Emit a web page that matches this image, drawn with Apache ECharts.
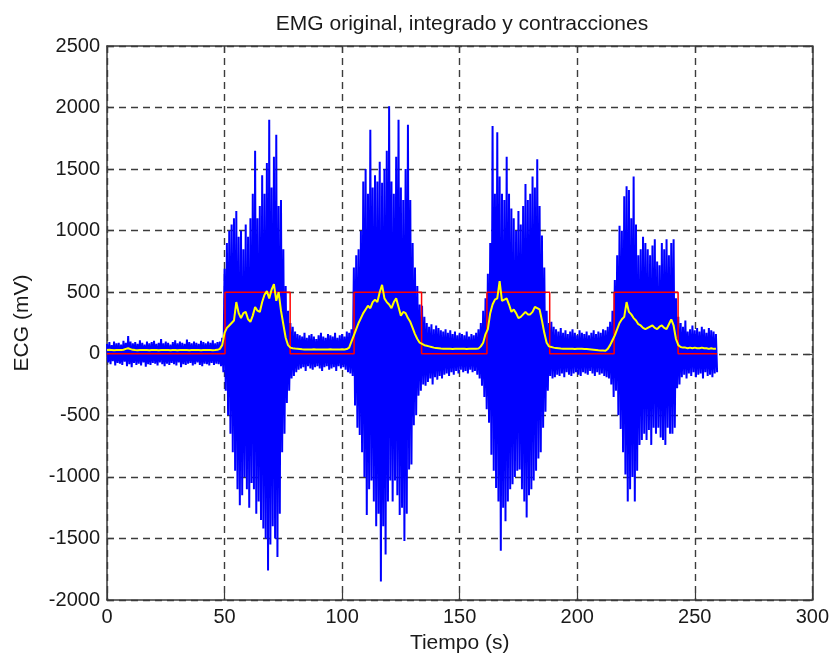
<!DOCTYPE html>
<html>
<head>
<meta charset="utf-8">
<title>EMG</title>
<script src="https://cdn.jsdelivr.net/npm/echarts@6/dist/echarts.min.js"></script>
<style>
    html, body { margin: 0; padding: 0; background: #fff; }
    #chart { width: 832px; height: 659px; }
</style>
</head>
<body>
<div id="chart"></div>
<script>
// EMG original: picos superior / inferior por segundo (t = 0 .. 259 s)
const emgUpRest0 = [80, 95, 70, 100, 85, 90, 75, 105, 90, 145, 100, 85, 95, 80, 110, 90, 75, 100, 85, 95,
    105, 80, 90, 120, 85, 100, 90, 75, 95, 110, 85, 100, 90, 80, 115, 95, 85, 100, 90, 80,
    105, 95, 85, 100, 90, 110, 85, 95, 100, 130];
const emgLoRest0 = [-70, -85, -60, -95, -75, -80, -90, -65, -100, -85, -110, -75, -90, -80, -95, -70, -105, -85, -90, -75,
    -80, -95, -70, -85, -100, -80, -90, -75, -85, -95, -70, -110, -85, -90, -80, -75, -95, -85, -70, -90,
    -100, -80, -85, -95, -75, -90, -80, -85, -100, -150];
const emgUpBurst1 = [690, 900, 1000, 1050, 1100, 1160, 950, 1000, 850, 1050, 950, 1100, 1300, 1650, 1100, 1200, 1450, 1300, 1550, 1900,
    1350, 1600, 1780, 1200, 1250, 850, 550, 350, 250];
const emgLoBurst1 = [-300, -500, -650, -800, -950, -1100, -1230, -1150, -1000, -1100, -1250, -1050, -1100, -1300, -1200, -1350, -1420, -1500, -1760, -1550,
    -1400, -1500, -1650, -1300, -800, -650, -400, -300, -200];
const emgUpRest1 = [220, 180, 160, 150, 140, 170, 130, 150, 160, 140, 120, 150, 170, 140, 130, 160, 150, 140, 170, 130,
    150, 160, 140, 180, 170, 200];
const emgLoRest1 = [-180, -150, -130, -120, -110, -140, -100, -120, -130, -110, -100, -120, -140, -110, -100, -130, -120, -110, -140, -100,
    -120, -110, -130, -150, -160, -180];
const emgUpBurst2 = [700, 800, 850, 1000, 1400, 1500, 1300, 1820, 1350, 1450, 1400, 1560, 1390, 1500, 1650, 2010, 1400, 1300, 1600, 1900,
    1350, 1250, 1500, 1860, 1250, 900, 700, 550, 400, 390];
const emgLoBurst2 = [-420, -600, -660, -800, -1000, -1310, -1100, -1030, -1200, -1400, -1300, -1850, -1400, -1630, -1200, -1030, -1200, -1030, -1150, -1310,
    -1250, -1520, -1300, -940, -900, -580, -500, -340, -300, -250];
const emgUpRest2 = [300, 250, 220, 240, 200, 230, 210, 190, 180, 200, 170, 190, 160, 180, 150, 170, 160, 150, 180, 140,
    160, 150, 170, 200, 250, 350, 450];
const emgLoRest2 = [-260, -230, -200, -250, -190, -210, -180, -200, -170, -160, -180, -150, -170, -140, -160, -130, -150, -140, -160, -130,
    -150, -140, -170, -200, -260, -350, -450];
const emgUpBurst3 = [650, 900, 1850, 1300, 1800, 1440, 1300, 1250, 1600, 1300, 1180, 1100, 1000, 1160, 1050, 1200, 1380, 1250, 1300, 1440,
    1350, 1580, 1200, 960, 700, 350, 250];
const emgLoBurst3 = [-560, -820, -950, -1090, -1200, -1600, -1250, -1360, -1200, -1100, -1060, -1000, -950, -940, -1100, -1200, -1330, -1150, -1100, -1030,
    -950, -850, -800, -600, -470, -300, -180];
const emgUpRest3 = [260, 220, 200, 180, 210, 170, 190, 160, 180, 200, 170, 150, 190, 170, 160, 180, 150, 170, 190, 160,
    180, 170, 200, 190, 220, 260, 350];
const emgLoRest3 = [-200, -190, -170, -180, -160, -190, -150, -170, -180, -160, -150, -170, -180, -150, -160, -170, -140, -160, -180, -150,
    -170, -160, -180, -190, -200, -250, -350];
const emgUpBurst4 = [600, 800, 1040, 1000, 1280, 1360, 1330, 1100, 1440, 1050, 800, 850, 950, 900, 850, 800, 880, 930, 750, 720,
    900, 850, 930, 800, 900, 930, 450, 300];
const emgLoBurst4 = [-300, -500, -610, -800, -980, -1200, -1100, -1000, -1200, -950, -740, -700, -650, -700, -620, -740, -600, -650, -600, -680,
    -700, -740, -600, -650, -650, -600, -280, -250];
const emgUpRest4 = [250, 220, 270, 180, 200, 230, 190, 210, 180, 220, 200, 170, 210, 190, 180, 160];
const emgLoRest4 = [-190, -170, -200, -160, -180, -150, -190, -170, -160, -200, -150, -180, -170, -190, -160, -150];

// EMG integrado, un valor por segundo
const intRest0 = [30, 32, 30, 28, 30, 31, 30, 33, 40, 45, 38, 32, 30, 29, 30, 31, 30, 30, 28, 30,
    31, 30, 29, 30, 30, 31, 30, 28, 30, 30, 29, 30, 31, 30, 30, 29, 30, 31, 30, 30,
    29, 30, 30, 31, 30, 29, 30, 32, 40, 70];
const intBurst1 = [170, 210, 230, 250, 270, 420, 330, 290, 330, 340, 280, 260, 310, 380, 350, 340, 420, 480, 510, 450,
    520, 565, 430, 500, 350, 240, 130, 70, 50];
const intRest1 = [45, 42, 40, 38, 36, 35, 35, 34, 35, 36, 35, 34, 35, 35, 34, 35, 36, 35, 34, 35, 35, 36, 35, 38, 50, 100];
const intBurst2 = [150, 200, 250, 290, 330, 360, 390, 370, 420, 440, 420, 500, 560, 450, 420, 400, 370, 420, 450, 380,
    310, 340, 330, 290, 260, 210, 160, 120, 90, 80];
const intRest2 = [70, 65, 60, 55, 50, 46, 44, 42, 41, 40, 40, 40, 39, 40, 40, 41, 40, 40, 39, 40, 40, 40, 41, 42, 60, 90, 160];
const intBurst3 = [200, 330, 400, 440, 450, 590, 430, 440, 450, 400, 340, 360, 330, 290, 300, 320, 340, 320, 320, 340,
    380, 370, 360, 270, 170, 90, 60];
const intRest3 = [55, 50, 46, 44, 42, 41, 40, 40, 40, 40, 39, 40, 40, 40, 39, 38, 36, 34, 32, 30, 28, 27, 26, 25, 40, 70, 110];
const intBurst4 = [150, 200, 250, 280, 300, 420, 340, 320, 290, 270, 240, 230, 210, 200, 210, 220, 230, 210, 200, 220,
    230, 210, 200, 240, 280, 230, 120, 70];
const intRest4 = [55, 50, 50, 45, 50, 45, 50, 45, 45, 50, 45, 45, 40, 45, 40, 40];

// contracciones (s)
const contractionStart = [50.2, 105.1, 161.6, 215.7];
const contractionEnd = [77.9, 133.8, 188.3, 242.9];
const contractionHigh = 500;
const contractionLow = 0;
const signalEnd = 259.5;

// ejes
const xTicks = [0, 50, 100, 150, 200, 250, 300];
const yTicks = [-2000, -1500, -1000, -500, 0, 500, 1000, 1500, 2000, 2500];

/**
 * Junta picos superiores e inferiores en una sola senal en zig-zag
 */
function buildEmgSeries(upList, loList) {
    const up = [].concat(...upList);
    const lo = [].concat(...loList);
    const data = [];
    for (let i = 0; i < up.length; i++) {
        data.push([i, up[i]]);
        data.push([i + 0.5, lo[i]]);
    }
    return data;
}

function buildIntegrated(list) {
    return [].concat(...list).map((v, i) => [i, v]);
}

function buildContractions() {
    const data = [[0, contractionLow]];
    for (let i = 0; i < contractionStart.length; i++) {
        data.push([contractionStart[i], contractionLow]);
        data.push([contractionStart[i], contractionHigh]);
        data.push([contractionEnd[i], contractionHigh]);
        data.push([contractionEnd[i], contractionLow]);
    }
    data.push([signalEnd, contractionLow]);
    return data;
}

/**
 * Dibuja EMG original, integrado y contracciones
 * @param elementById posicion del grafico
 */
function plotEmgChart(elementById) {
    const font = 'Liberation Sans, Arial, sans-serif';
    const axisColor = '#3a3a3a';
    const gridLine = {show: true, lineStyle: {color: '#3c3c3c', width: 1.4, type: [7, 5]}};
    const tick = {show: true, inside: true, length: 7, lineStyle: {color: axisColor, width: 1.2}};
    const plain = v => String(v);

    const emgData = buildEmgSeries(
        [emgUpRest0, emgUpBurst1, emgUpRest1, emgUpBurst2, emgUpRest2, emgUpBurst3, emgUpRest3, emgUpBurst4, emgUpRest4],
        [emgLoRest0, emgLoBurst1, emgLoRest1, emgLoBurst2, emgLoRest2, emgLoBurst3, emgLoRest3, emgLoBurst4, emgLoRest4]
    );
    const intData = buildIntegrated([intRest0, intBurst1, intRest1, intBurst2, intRest2, intBurst3, intRest3, intBurst4, intRest4]);

    const option = {
        animation: false,
        backgroundColor: '#fff',
        title: {
            text: 'EMG original, integrado y contracciones',
            left: 457,
            textAlign: 'center',
            top: 9,
            textStyle: {fontFamily: font, fontSize: 21, fontWeight: 'normal', color: '#1a1a1a'}
        },
        grid: {left: 107, top: 46, width: 711, height: 557, containLabel: false},
        xAxis: [
            {
                type: 'value', min: xTicks[0], max: xTicks[xTicks.length - 1], interval: 50,
                position: 'bottom',
                name: 'Tiempo (s)', nameLocation: 'middle', nameGap: 33,
                nameTextStyle: {fontFamily: font, fontSize: 21, color: '#1a1a1a'},
                axisLine: {show: true, onZero: false, lineStyle: {color: axisColor, width: 1.5}},
                axisTick: tick,
                axisLabel: {fontFamily: font, fontSize: 20, color: '#1a1a1a', margin: 7, formatter: plain},
                splitLine: gridLine
            },
            {
                type: 'value', min: xTicks[0], max: xTicks[xTicks.length - 1], interval: 50,
                position: 'top',
                axisLine: {show: true, onZero: false, lineStyle: {color: axisColor, width: 1.5}},
                axisTick: tick,
                axisLabel: {show: false},
                splitLine: {show: false}
            }
        ],
        yAxis: [
            {
                type: 'value', min: yTicks[0], max: yTicks[yTicks.length - 1], interval: 500,
                position: 'left',
                name: 'ECG (mV)', nameLocation: 'middle', nameGap: 74, nameRotate: 90,
                nameTextStyle: {fontFamily: font, fontSize: 21, color: '#1a1a1a'},
                axisLine: {show: true, onZero: false, lineStyle: {color: axisColor, width: 1.5}},
                axisTick: tick,
                axisLabel: {fontFamily: font, fontSize: 20, color: '#1a1a1a', margin: 7, formatter: plain},
                splitLine: gridLine
            },
            {
                type: 'value', min: yTicks[0], max: yTicks[yTicks.length - 1], interval: 500,
                position: 'right',
                axisLine: {show: true, onZero: false, lineStyle: {color: axisColor, width: 1.5}},
                axisTick: tick,
                axisLabel: {show: false},
                splitLine: {show: false}
            }
        ],
        series: [
            {
                name: 'EMG original', type: 'line', data: emgData,
                showSymbol: false, sampling: null,
                lineStyle: {color: '#0000ff', width: 2}
            },
            {
                name: 'Contracciones', type: 'line', data: buildContractions(),
                showSymbol: false,
                lineStyle: {color: '#ff0000', width: 1.5}
            },
            {
                name: 'EMG integrado', type: 'line', data: intData,
                showSymbol: false,
                lineStyle: {color: '#ffff00', width: 2}
            }
        ]
    };

    const chart = echarts.init(document.getElementById(elementById));
    chart.setOption(option);
}

plotEmgChart('chart');
</script>
</body>
</html>
